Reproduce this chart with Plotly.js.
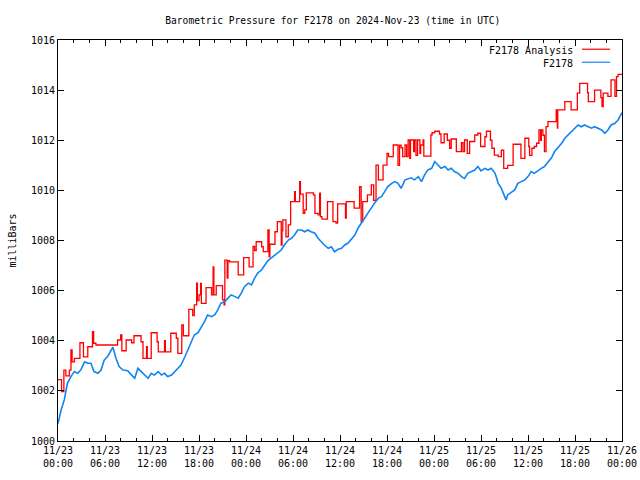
<!DOCTYPE html>
<html>
<head>
<meta charset="utf-8">
<script src="https://cdn.plot.ly/plotly-3.0.1.min.js"></script>
<style>html,body{margin:0;padding:0;background:#fff;}#chart{width:640px;height:480px;}</style>
</head>
<body>
<div id="chart"></div>
<script>
// Hours since 2024-11-23 00:00 UTC
const stationHours = [0.0,0.1,0.4,0.8,1.2,1.7,2.1,2.5,2.9,3.4,3.8,4.2,4.6,5.1,5.5,5.9,6.3,6.8,7.0,7.4,7.8,8.3,8.9,9.4,9.8,10.2,10.6,11.1,11.5,11.9,12.3,12.8,13.2,13.6,14.0,14.5,14.9,15.3,15.7,16.2,16.6,17.0,17.4,17.9,18.3,18.7,19.1,19.6,20.0,20.4,20.8,21.3,21.7,22.1,22.6,23.0,23.4,23.8,24.3,24.7,25.1,25.5,26.0,26.4,26.8,27.2,27.7,28.1,28.5,28.9,29.4,29.8,30.2,30.6,31.1,31.5,31.9,32.3,32.8,33.2,33.6,34.0,34.5,34.9,35.3,35.7,36.2,36.6,37.0,37.4,37.9,38.3,38.7,39.2,39.6,40.0,40.4,40.9,41.3,41.7,42.1,42.6,43.0,43.4,43.8,44.3,44.7,45.1,45.5,46.0,46.4,46.8,47.2,47.7,48.1,48.5,48.9,49.4,49.8,50.2,50.6,51.1,51.5,51.9,52.3,52.8,53.2,53.6,54.0,54.5,54.9,55.3,55.8,56.0,56.2,56.6,57.0,57.2,57.4,57.9,58.3,58.7,59.1,59.6,60.0,60.4,60.8,61.3,61.7,62.1,62.6,63.0,63.4,63.8,64.3,64.7,65.1,65.5,66.0,66.4,66.8,67.2,67.7,68.1,68.5,68.9,69.4,69.8,70.2,70.6,71.1,71.5,71.8,72.0];
const stationValues = [1000.7,1000.84,1001.24,1001.64,1002.3,1002.6,1002.77,1002.7,1002.83,1003.16,1003.1,1003.1,1002.77,1002.7,1002.83,1003.23,1003.36,1003.63,1003.75,1003.3,1002.97,1002.83,1002.8,1002.63,1002.5,1002.9,1002.77,1002.63,1002.5,1002.7,1002.63,1002.77,1002.63,1002.7,1002.57,1002.63,1002.77,1002.9,1003.03,1003.36,1003.63,1003.96,1004.23,1004.33,1004.53,1004.76,1005.03,1004.96,1005.03,1005.23,1005.5,1005.56,1005.7,1005.83,1005.76,1005.7,1005.9,1006.16,1006.3,1006.23,1006.5,1006.7,1006.83,1007.03,1007.2,1007.3,1007.42,1007.55,1007.62,1007.82,1008.02,1008.09,1008.22,1008.42,1008.42,1008.35,1008.42,1008.35,1008.29,1008.09,1007.95,1007.82,1007.69,1007.75,1007.55,1007.64,1007.69,1007.82,1007.89,1008.02,1008.22,1008.49,1008.69,1008.89,1009.09,1009.29,1009.49,1009.69,1009.75,1009.95,1010.15,1010.28,1010.35,1010.28,1010.08,1010.42,1010.46,1010.5,1010.42,1010.55,1010.35,1010.62,1010.81,1010.88,1011.15,1011.01,1010.88,1010.95,1010.81,1010.88,1010.75,1010.68,1010.55,1010.48,1010.68,1010.75,1010.81,1010.95,1010.78,1010.88,1010.81,1010.88,1010.68,1010.48,1010.28,1010.08,1009.75,1009.62,1009.82,1009.95,1010.02,1010.28,1010.35,1010.42,1010.55,1010.75,1010.68,1010.81,1010.88,1010.95,1011.15,1011.3,1011.55,1011.68,1011.88,1012.08,1012.21,1012.34,1012.48,1012.61,1012.54,1012.61,1012.54,1012.48,1012.54,1012.48,1012.41,1012.28,1012.41,1012.61,1012.68,1012.81,1013.01,1013.1];

const analysisHours = [0.0,0.45,0.75,1.0,1.45,1.65,1.8,2.1,2.8,3.25,3.8,4.4,4.55,4.85,7.6,8.0,8.15,8.7,9.4,9.7,10.6,10.85,11.3,11.4,11.9,12.65,12.8,13.6,13.7,14.4,15.1,15.3,15.8,16.0,16.7,17.2,17.4,17.7,17.8,18.0,18.2,18.3,18.9,19.6,19.8,19.9,20.2,21.0,21.2,21.3,21.6,21.7,21.9,23.0,23.7,24.4,24.9,25.1,25.3,26.0,26.2,26.8,26.95,27.05,27.7,28.0,28.5,28.6,28.7,29.1,29.4,29.7,30.2,30.3,30.85,30.95,31.3,31.5,31.7,32.6,32.8,33.2,33.4,33.5,33.7,34.4,35.1,35.5,35.7,36.7,36.8,37.8,38.5,38.7,38.9,39.5,40.0,40.3,40.6,40.9,41.5,42.0,42.2,42.8,43.4,43.6,43.8,44.0,44.3,44.5,44.7,44.9,45.0,45.4,45.5,45.7,45.9,46.2,46.3,46.6,46.7,47.6,47.75,48.1,48.7,48.9,49.3,49.7,50.0,50.2,50.85,51.5,51.7,51.9,52.25,52.55,53.2,53.6,53.95,54.5,54.7,55.2,55.4,55.7,56.2,56.6,56.9,57.4,58.1,59.1,59.6,60.1,60.2,60.5,60.8,61.1,61.4,61.6,61.7,61.9,62.1,62.3,62.55,63.6,63.75,63.8,64.7,65.5,66.3,66.6,67.6,67.7,68.5,69.3,69.45,69.6,70.2,70.6,71.1,71.3,71.5,72.0];
const analysisValues = [1002.45,1001.97,1002.83,1002.6,1002.83,1003.63,1003.16,1003.3,1003.92,1003.36,1003.76,1004.36,1003.9,1003.83,1004.03,1004.23,1003.6,1004.03,1003.92,1004.2,1003.96,1003.3,1003.76,1003.3,1004.32,1003.96,1003.56,1004.0,1003.56,1004.3,1004.1,1003.5,1004.63,1004.2,1005.25,1005.0,1005.43,1006.3,1005.6,1005.83,1006.29,1005.49,1006.12,1005.83,1006.95,1005.83,1006.2,1005.63,1005.43,1007.22,1006.5,1007.2,1007.15,1006.63,1007.32,1006.95,1007.76,1007.6,1007.95,1007.75,1007.56,1008.42,1007.35,1007.85,1008.35,1008.75,1007.82,1008.4,1008.82,1008.15,1008.62,1009.55,1009.95,1009.55,1010.35,1009.85,1009.08,1009.22,1009.9,1009.82,1009.08,1009.02,1009.89,1008.95,1008.85,1009.55,1008.75,1008.69,1009.46,1008.89,1009.55,1009.29,1010.15,1008.75,1009.55,1009.82,1010.22,1009.6,1011.01,1010.42,1011.01,1011.48,1011.35,1011.81,1011.0,1011.8,1011.7,1011.35,1011.81,1011.35,1012.01,1011.28,1012.01,1011.55,1012.01,1011.4,1012.01,1011.48,1011.81,1012.01,1011.37,1012.21,1012.3,1012.36,1012.25,1011.9,1012.25,1012.0,1011.68,1012.05,1011.55,1011.9,1011.55,1012.01,1011.48,1011.95,1012.21,1012.28,1011.75,1012.14,1012.36,1012.0,1011.68,1011.41,1011.35,1011.6,1010.88,1011.0,1011.84,1011.28,1012.08,1011.75,1011.4,1011.68,1011.75,1011.88,1012.41,1012.0,1012.41,1012.2,1011.55,1012.54,1012.74,1013.21,1012.48,1013.21,1013.54,1013.21,1013.88,1014.27,1013.9,1013.54,1014.0,1013.7,1013.34,1013.88,1013.75,1014.41,1013.75,1014.54,1014.63,1014.63];

const tickHours = [0,6,12,18,24,30,36,42,48,54,60,66,72];
const tickLabels = ['11/23<br>00:00','11/23<br>06:00','11/23<br>12:00','11/23<br>18:00','11/24<br>00:00','11/24<br>06:00','11/24<br>12:00','11/24<br>18:00','11/25<br>00:00','11/25<br>06:00','11/25<br>12:00','11/25<br>18:00','11/26<br>00:00'];
const yTicks = [1000,1002,1004,1006,1008,1010,1012,1014,1016];

const base = Date.UTC(2024,10,23,0,0,0);
function pad(n){return (n<10?'0':'')+n;}
function toDate(h){
  const d = new Date(base + Math.round(h*3600)*1000);
  return d.getUTCFullYear()+'-'+pad(d.getUTCMonth()+1)+'-'+pad(d.getUTCDate())+' '+pad(d.getUTCHours())+':'+pad(d.getUTCMinutes())+':'+pad(d.getUTCSeconds());
}

const mono = 'DejaVu Sans Mono, Liberation Mono, monospace';
const redColor = '#ff0000';
const blueColor = '#1084f0';

const traces = [
  {x: analysisHours.map(toDate), y: analysisValues, type:'scatter', mode:'lines', name:'F2178 Analysis',
   line:{color:redColor, width:1.3, shape:'hv'}},
  {x: stationHours.map(toDate), y: stationValues, type:'scatter', mode:'lines', name:'F2178',
   line:{color:blueColor, width:1.6}}
];

const layout = {
  width:640, height:480,
  margin:{l:58, r:18, t:40, b:39, pad:0},
  paper_bgcolor:'#fff', plot_bgcolor:'#fff',
  showlegend:false,
  font:{family:mono, size:10, color:'#000'},
  title:{text:'Barometric Pressure for F2178 on 2024-Nov-23 (time in UTC)', font:{family:mono, size:9.6, color:'#000'}, x:0.52, xanchor:'center', y:0.958, yanchor:'middle'},
  xaxis:{
    type:'date', range:[toDate(0), toDate(72)],
    tickmode:'array', tickvals: tickHours.map(toDate), ticktext: tickLabels,
    ticks:'inside', ticklen:6, tickcolor:'#000', tickwidth:1,
    showline:true, linecolor:'#000', linewidth:1, mirror:'allticks',
    showgrid:false, zeroline:false,
    tickfont:{family:mono, size:10, color:'#000'},
    minor:{tickmode:'linear', tick0:toDate(0), dtick:7200000, ticks:'inside', ticklen:3, tickcolor:'#000', showgrid:false}
  },
  yaxis:{
    range:[1000,1016], tickmode:'array', tickvals:yTicks, ticktext:yTicks.map(String),
    ticks:'inside', ticklen:6, tickcolor:'#000', tickwidth:1,
    showline:true, linecolor:'#000', linewidth:1, mirror:'allticks',
    showgrid:false, zeroline:false,
    tickfont:{family:mono, size:10, color:'#000'},
    title:{text:'milliBars', font:{family:mono, size:10, color:'#000'}, standoff:12}
  },
  annotations:[
    {xref:'paper', yref:'paper', x:0.9167, y:0.975, xanchor:'right', yanchor:'middle', text:'F2178 Analysis', showarrow:false, font:{family:mono, size:10, color:'#000'}},
    {xref:'paper', yref:'paper', x:0.9167, y:0.9426, xanchor:'right', yanchor:'middle', text:'F2178', showarrow:false, font:{family:mono, size:10, color:'#000'}}
  ],
  shapes:[
    {type:'line', xref:'paper', yref:'paper', x0:0.929, x1:0.979, y0:0.977, y1:0.977, line:{color:redColor, width:1.2}},
    {type:'line', xref:'paper', yref:'paper', x0:0.929, x1:0.979, y0:0.9446, y1:0.9446, line:{color:blueColor, width:1.2}}
  ]
};

Plotly.newPlot('chart', traces, layout, {displayModeBar:false, staticPlot:true});
</script>
</body>
</html>
